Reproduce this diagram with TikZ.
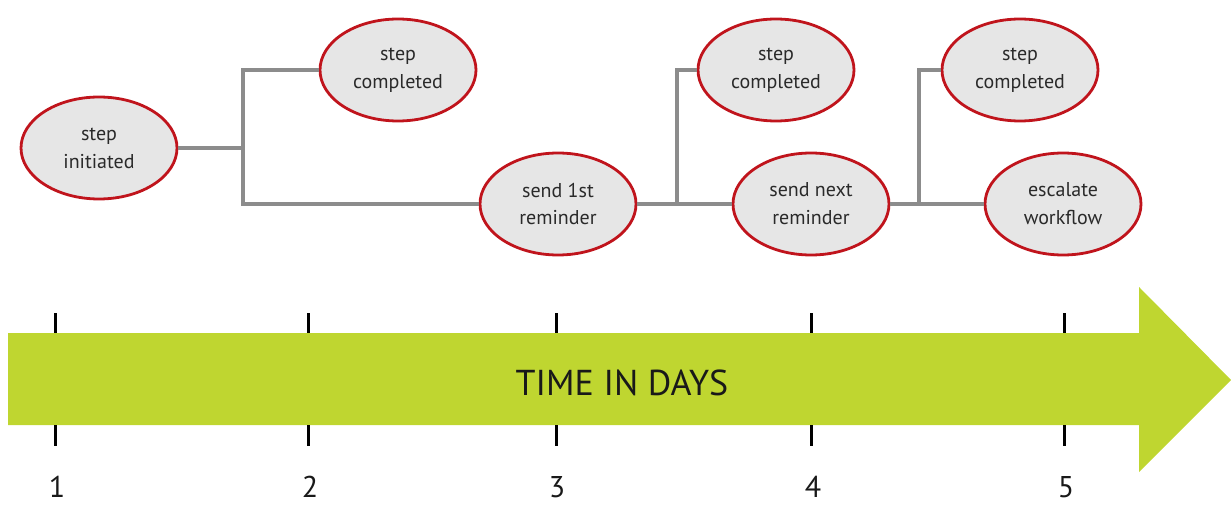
\documentclass[tikz,border=0pt]{standalone}
\usepackage{fontspec}
\setmainfont{PT Sans}
\usetikzlibrary{shapes.geometric}
\definecolor{lime}{HTML}{BFD630}
\definecolor{ered}{HTML}{C0141C}
\definecolor{efill}{HTML}{E6E6E6}
\definecolor{conngray}{HTML}{8C8C8C}
\definecolor{txt}{HTML}{2A2A2A}
\tikzset{
  ev/.style={ellipse, draw=ered, line width=2.8pt, fill=efill, minimum width=156pt, minimum height=102pt, inner sep=0pt, align=center, text=txt, font=\fontsize{20}{28}\selectfont},
  conn/.style={draw=conngray, line width=3.2pt},
  tick/.style={draw=black, line width=3pt},
  daynum/.style={font=\fontsize{30}{30}\selectfont, text=black!90, inner sep=0pt}
}
\begin{document}
\begin{tikzpicture}[x=1pt,y=-1pt]
\useasboundingbox (0,0) rectangle (1231,505);
% arrow
\fill[lime] (8,333) -- (1139,333) -- (1139,287) -- (1231,380) -- (1139,472) -- (1139,425) -- (8,425) -- cycle;
\node[font=\fontsize{36}{36}\selectfont, text=black!90] (title) at (622,383) {TIME IN DAYS};
% ticks and numbers
\foreach \x/\n/\lx in {55/1/57, 308/2/310, 556/3/557, 811/4/813, 1064/5/1066} {
  \coordinate (t\n a) at (\x,313);
  \coordinate (t\n b) at (\x,333);
  \coordinate (t\n c) at (\x,425);
  \coordinate (t\n d) at (\x,446);
  \draw[tick] (t\n a) -- (t\n b);
  \draw[tick] (t\n c) -- (t\n d);
  \node[daynum] (d\n) at (\lx,487) {\n};
}
\coordinate (j1) at (243,148);
\coordinate (j2) at (677,204);
\coordinate (j3) at (919,204);
% nodes
\node[ev] (si) at (99,148) {step\\initiated};
\node[ev] (sc1) at (398,70) {step\\completed};
\node[ev] (r1) at (558,204) {send 1st\\reminder};
\node[ev] (sc2) at (776,70) {step\\completed};
\node[ev] (r2) at (811,204) {send next\\reminder};
\node[ev] (sc3) at (1020,70) {step\\completed};
\node[ev] (esc) at (1063,204) {escalate\\workflow};
% connectors
\draw[conn] (si.east) -- (j1);
\draw[conn] (sc1.west) -| (j1) |- (r1.west);
\draw[conn] (r1.east) -- (r2.west);
\draw[conn] (j2) |- (sc2.west);
\draw[conn] (r2.east) -- (esc.west);
\draw[conn] (j3) |- (sc3.west);
\end{tikzpicture}
\end{document}
